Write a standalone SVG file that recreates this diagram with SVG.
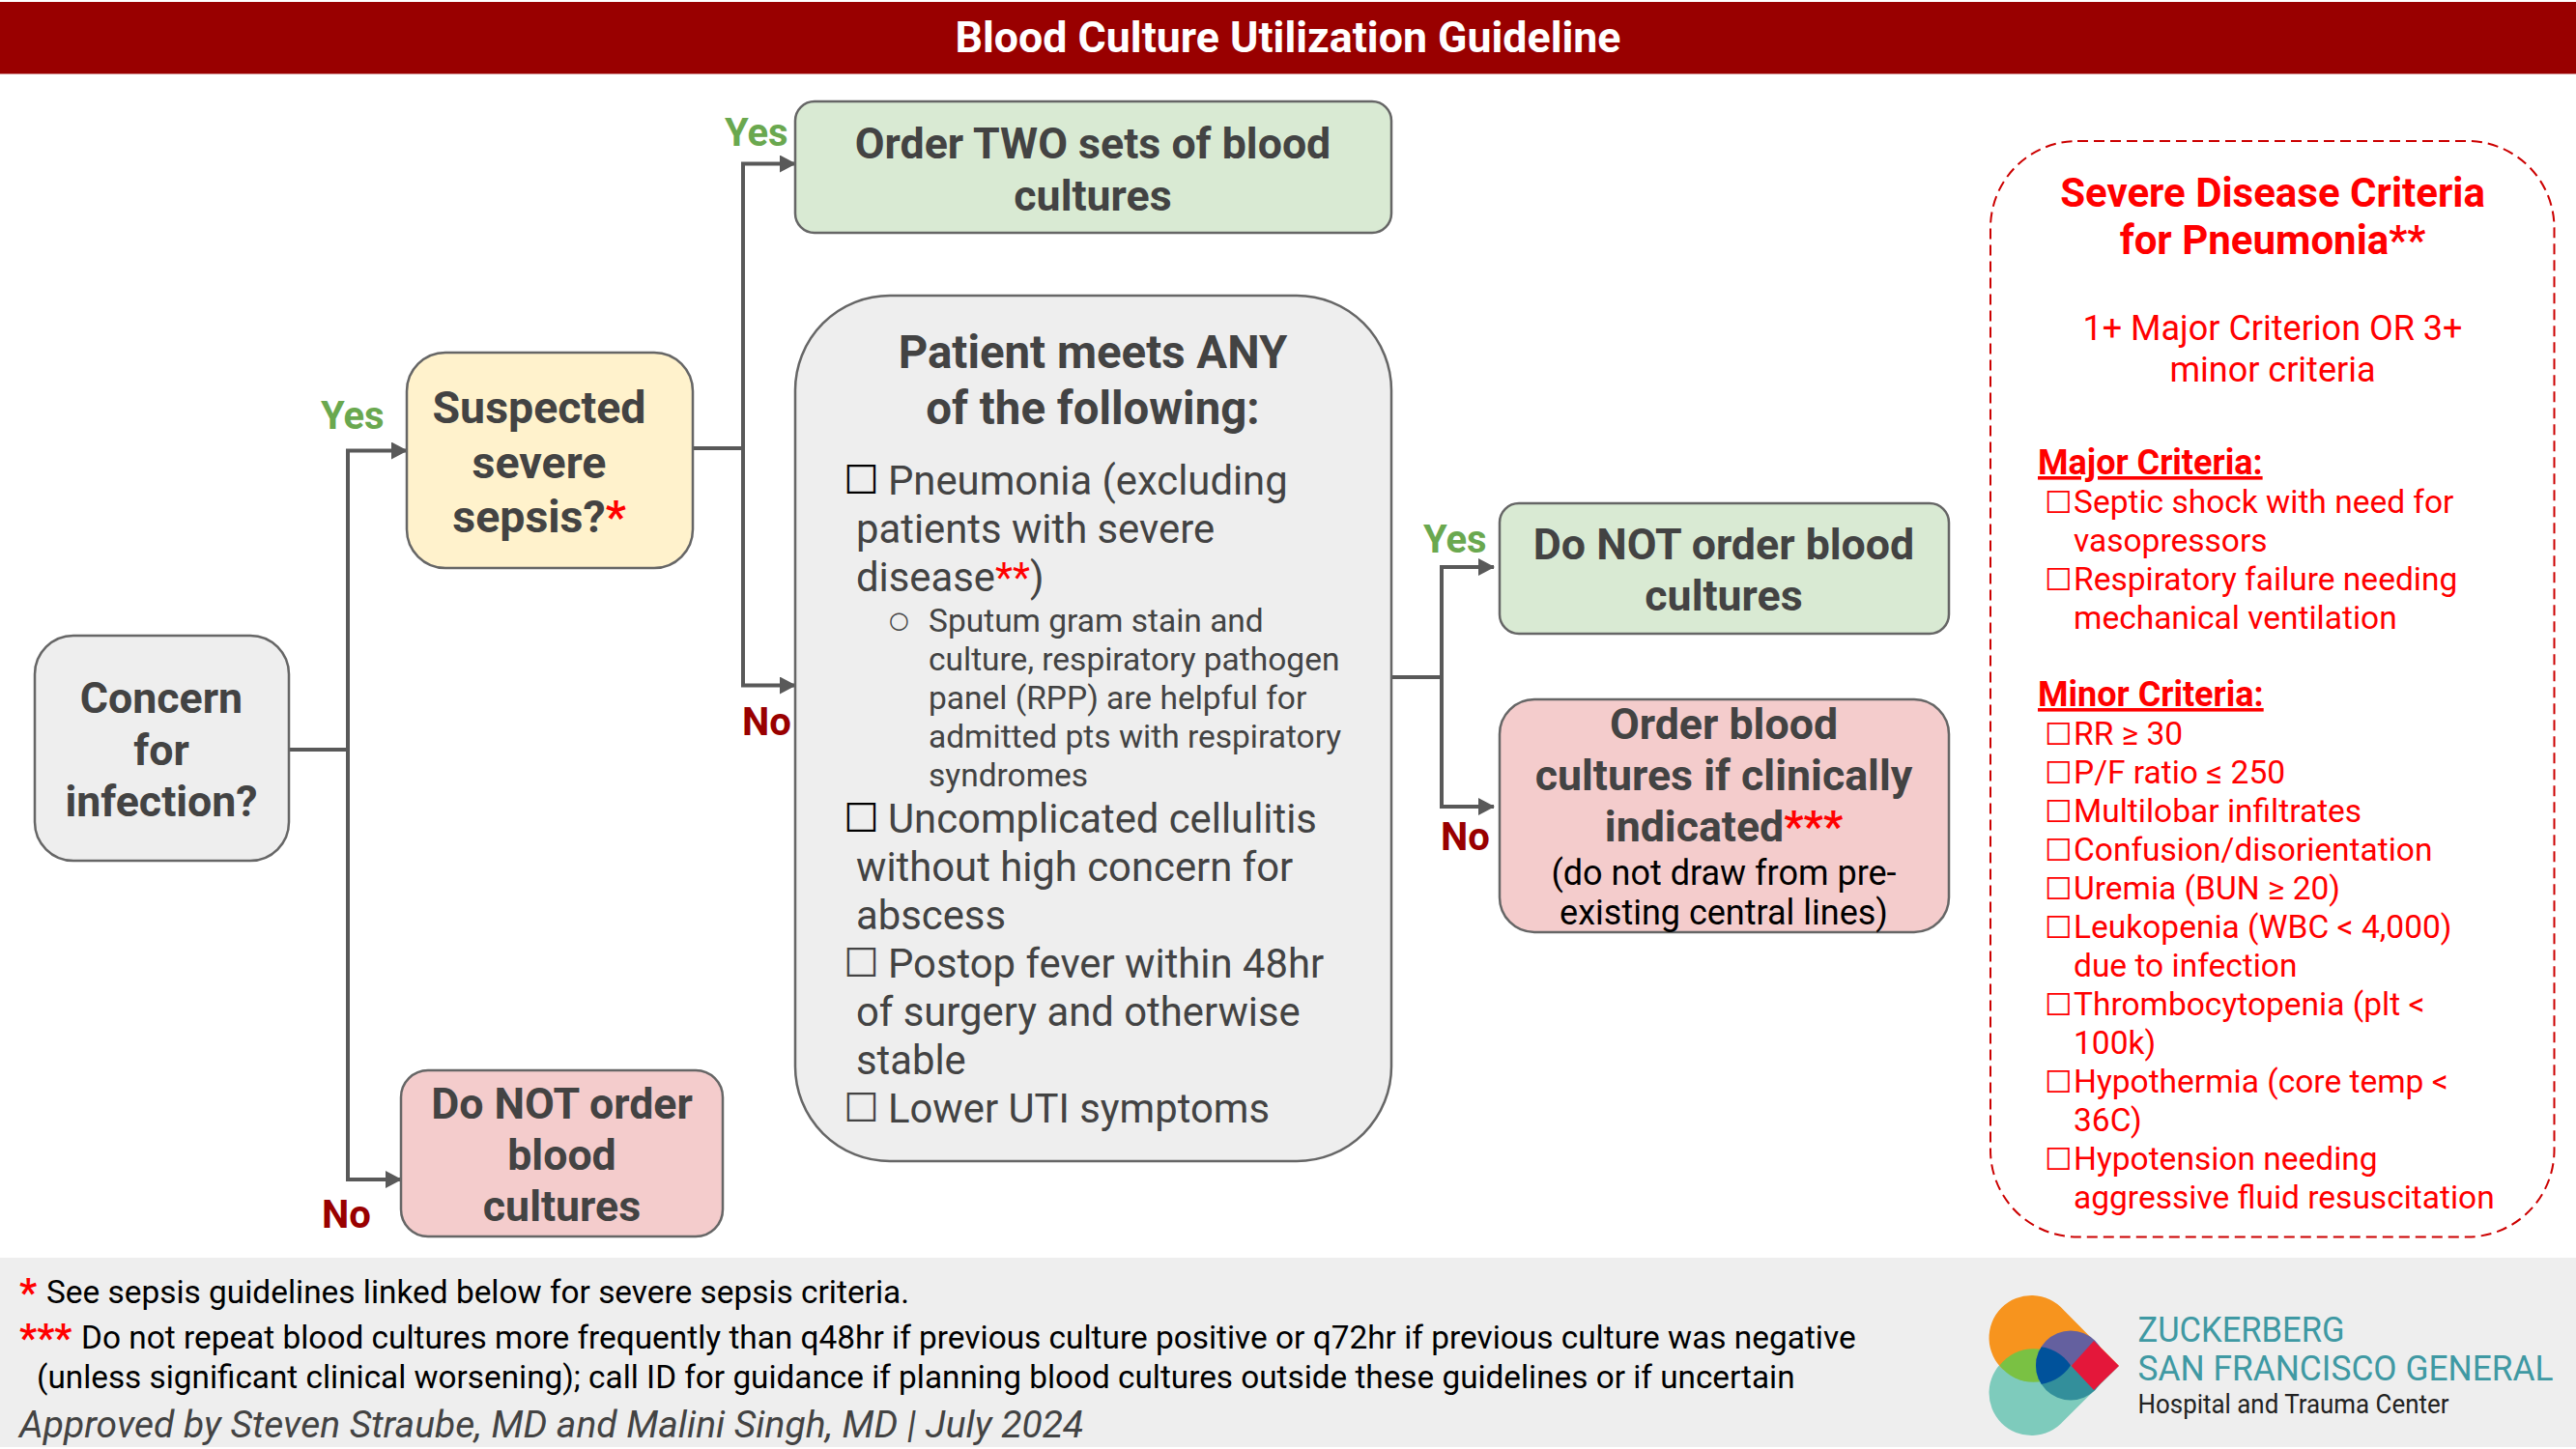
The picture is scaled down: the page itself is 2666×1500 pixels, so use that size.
<svg xmlns="http://www.w3.org/2000/svg" width="2666" height="1500" viewBox="0 0 2666 1500">
<style>
text{font-family:Roboto,"Liberation Sans",sans-serif;fill:#434343}
.b48{font-size:44.700px;font-weight:700;text-anchor:middle}
.node{stroke:#666;stroke-width:2.5}
.yes{font-size:40px;font-weight:700;fill:#6aa84f}
.no{font-size:40px;font-weight:700;fill:#990000}
.li{font-size:41.800px}
.sub{font-size:33.500px}
.ck{font-family:"DejaVu Sans",sans-serif;font-size:41px;fill:#000}
.r{fill:#f00}
.rt{font-size:33.500px;fill:#f00}
.rk{font-family:"DejaVu Sans",sans-serif;font-size:32px;fill:#f00}
.rh{font-size:36px;font-weight:700;fill:#f00;text-decoration:underline}
.fn{font-size:33.400px;fill:#000}
.st{font-size:40px;font-weight:700;fill:#f00}
.conn{fill:none;stroke:#595959;stroke-width:4}
</style>
<defs>
<marker id="arrow" markerUnits="userSpaceOnUse" markerWidth="17" markerHeight="18" refX="16" refY="9" orient="auto"><path d="M0 0L17 9L0 18Z" fill="#595959"/></marker>
<clipPath id="eye"><circle cx="2143" cy="1413.5" r="36"/></clipPath>
</defs>
<rect width="2666" height="1500" fill="#fff"/>
<g id="banner"><rect x="0" y="2" width="2666" height="74.500" fill="#990000"/>
<text x="1333" y="54" text-anchor="middle" font-size="44.700" font-weight="700" style="fill:#fff">Blood Culture Utilization Guideline</text></g>
<rect id="footer-band" x="0" y="1302" width="2666" height="196" fill="#eeeeee"/>
<g id="connectors">
<path class="conn" d="M299 776H360"/>
<path class="conn" d="M360 1221V466.500H421" marker-end="url(#arrow)"/>
<path class="conn" d="M360 776V1221H415" marker-end="url(#arrow)"/>
<path class="conn" d="M717 464H769"/>
<path class="conn" d="M769 709.500V169.500H823" marker-end="url(#arrow)"/>
<path class="conn" d="M769 464V709.500H823" marker-end="url(#arrow)"/>
<path class="conn" d="M1440 701H1492"/>
<path class="conn" d="M1492 835V587H1546" marker-end="url(#arrow)"/>
<path class="conn" d="M1492 701V835H1546" marker-end="url(#arrow)"/>
</g>
<g id="edge-labels">
<text class="yes" x="332" y="444">Yes</text>
<text class="no" x="333" y="1271">No</text>
<text class="yes" x="750" y="151">Yes</text>
<text class="no" x="768" y="761">No</text>
<text class="yes" x="1473" y="572">Yes</text>
<text class="no" x="1491" y="880">No</text>
</g>
<g id="concern"><rect class="node" x="36" y="658" width="263" height="233" rx="40" fill="#eeeeee"/>
<text class="b48" x="167" y="738">Concern</text><text class="b48" x="167" y="792">for</text><text class="b48" x="167" y="845">infection?</text></g>
<g id="suspected"><rect class="node" x="421" y="365" width="296" height="223" rx="40" fill="#fff2cc"/>
<text class="b48" style="font-size:46.500px" x="558" y="438">Suspected</text><text class="b48" style="font-size:46.500px" x="558" y="495">severe</text><text class="b48" style="font-size:46.500px" x="558" y="551">sepsis?<tspan class="r">*</tspan></text></g>
<g id="no-order-left"><rect class="node" x="415" y="1108" width="333" height="172" rx="28" fill="#f4cccc"/>
<text class="b48" x="581.500" y="1158">Do NOT order</text><text class="b48" x="581.500" y="1211">blood</text><text class="b48" x="581.500" y="1264">cultures</text></g>
<g id="order-two"><rect class="node" x="823" y="105" width="617" height="136" rx="20" fill="#d9ead3"/>
<text class="b48" x="1131" y="163.500">Order TWO sets of blood</text><text class="b48" x="1131" y="217.500">cultures</text></g>
<g id="meets-any"><rect class="node" x="823" y="306" width="617" height="896" rx="98" fill="#eeeeee"/>
<text class="b48" style="font-size:47.400px" x="1131" y="381">Patient meets ANY</text><text class="b48" style="font-size:47.400px" x="1131" y="439">of the following:</text>
<text class="ck" x="873" y="511">☐</text><text class="li" x="919" y="512">Pneumonia (excluding</text>
<text class="li" x="886" y="562">patients with severe</text>
<text class="li" x="886" y="612">disease<tspan class="r">**</tspan>)</text>
<text class="ck" x="920" y="650" style="font-size:24px;fill:#434343">○</text>
<text class="sub" x="961" y="654">Sputum gram stain and</text>
<text class="sub" x="961" y="694">culture, respiratory pathogen</text>
<text class="sub" x="961" y="734">panel (RPP) are helpful for</text>
<text class="sub" x="961" y="774">admitted pts with respiratory</text>
<text class="sub" x="961" y="814">syndromes</text>
<text class="ck" x="873" y="861">☐</text><text class="li" x="919" y="862">Uncomplicated cellulitis</text>
<text class="li" x="886" y="912">without high concern for</text>
<text class="li" x="886" y="962">abscess</text>
<text class="ck" x="873" y="1011" style="fill:#434343">☐</text><text class="li" x="919" y="1012">Postop fever within 48hr</text>
<text class="li" x="886" y="1062">of surgery and otherwise</text>
<text class="li" x="886" y="1112">stable</text>
<text class="ck" x="873" y="1161" style="fill:#434343">☐</text><text class="li" x="919" y="1162">Lower UTI symptoms</text></g>
<g id="no-order-right"><rect class="node" x="1552" y="521" width="465" height="135" rx="20" fill="#d9ead3"/>
<text class="b48" x="1784" y="578.500">Do NOT order blood</text><text class="b48" x="1784" y="631.500">cultures</text></g>
<g id="order-indicated"><rect class="node" x="1552" y="724" width="465" height="241" rx="36" fill="#f4cccc"/>
<text class="b48" x="1784" y="765">Order blood</text><text class="b48" x="1784" y="818">cultures if clinically</text><text class="b48" x="1784" y="871">indicated<tspan class="r">***</tspan></text>
<text x="1784" y="916" text-anchor="middle" font-size="36" style="fill:#000">(do not draw from pre-</text><text x="1784" y="957" text-anchor="middle" font-size="36" style="fill:#000">existing central lines)</text></g>
<g id="severe-criteria"><rect x="2060" y="146" width="583.500" height="1134.500" rx="90" fill="none" stroke="#cc0000" stroke-width="2" stroke-dasharray="11 6"/>
<text x="2352" y="214" text-anchor="middle" font-size="42" font-weight="700" class="r">Severe Disease Criteria</text>
<text x="2352" y="263" text-anchor="middle" font-size="42" font-weight="700" class="r">for Pneumonia**</text>
<text x="2352" y="352" text-anchor="middle" font-size="36" class="r">1+ Major Criterion OR 3+</text>
<text x="2352" y="395" text-anchor="middle" font-size="36" class="r">minor criteria</text>
<text class="rh" x="2109" y="491">Major Criteria:</text>
<text class="rk" x="2116" y="531">☐</text><text class="rt" x="2146" y="531">Septic shock with need for</text>
<text class="rt" x="2146" y="571">vasopressors</text>
<text class="rk" x="2116" y="611">☐</text><text class="rt" x="2146" y="611">Respiratory failure needing</text>
<text class="rt" x="2146" y="651">mechanical ventilation</text>
<text class="rh" x="2109" y="731">Minor Criteria:</text>
<text class="rk" x="2116" y="771">☐</text><text class="rt" x="2146" y="771">RR ≥ 30</text>
<text class="rk" x="2116" y="811">☐</text><text class="rt" x="2146" y="811">P/F ratio ≤ 250</text>
<text class="rk" x="2116" y="851">☐</text><text class="rt" x="2146" y="851">Multilobar infiltrates</text>
<text class="rk" x="2116" y="891">☐</text><text class="rt" x="2146" y="891">Confusion/disorientation</text>
<text class="rk" x="2116" y="931">☐</text><text class="rt" x="2146" y="931">Uremia (BUN ≥ 20)</text>
<text class="rk" x="2116" y="971">☐</text><text class="rt" x="2146" y="971">Leukopenia (WBC &lt; 4,000)</text>
<text class="rt" x="2146" y="1011">due to infection</text>
<text class="rk" x="2116" y="1051">☐</text><text class="rt" x="2146" y="1051">Thrombocytopenia (plt &lt;</text>
<text class="rt" x="2146" y="1091">100k)</text>
<text class="rk" x="2116" y="1131">☐</text><text class="rt" x="2146" y="1131">Hypothermia (core temp &lt;</text>
<text class="rt" x="2146" y="1171">36C)</text>
<text class="rk" x="2116" y="1211">☐</text><text class="rt" x="2146" y="1211">Hypotension needing</text>
<text class="rt" x="2146" y="1251">aggressive fluid resuscitation</text></g>
<g id="footnotes">
<text class="st" x="20" y="1352">*</text><text class="fn" x="48" y="1349">See sepsis guidelines linked below for severe sepsis criteria.</text>
<text class="st" x="20" y="1399">***</text><text class="fn" x="84" y="1396">Do not repeat blood cultures more frequently than q48hr if previous culture positive or q72hr if previous culture was negative</text>
<text class="fn" style="font-size:33.300px" x="38" y="1437">(unless significant clinical worsening); call ID for guidance if planning blood cultures outside these guidelines or if uncertain</text>
<text x="20" y="1488" font-size="39" font-style="italic">Approved by Steven Straube, MD and Malini Singh, MD | July 2024</text>
</g>
<g id="logo">
<path fill="#7ecbbc" d="M2193 1414L2135.600 1471A44 44 0 1 1 2073.400 1409L2104 1414Z"/>
<path fill="#f7941e" d="M2193 1414L2135.600 1356A44 44 0 1 0 2073.400 1418L2104 1414Z"/>
<path fill="#7ac143" d="M2069.500 1413.500A44 44 0 0 1 2139.500 1413.500A44 44 0 0 1 2069.500 1413.500Z"/>
<g clip-path="url(#eye)">
<rect x="2100" y="1370" width="90" height="43.500" fill="#64609f"/>
<rect x="2100" y="1413.500" width="90" height="43.500" fill="#338f9b"/>
<path fill="#00529b" d="M2069.500 1413.500A44 44 0 0 1 2143 1413.500A44 44 0 0 1 2069.500 1413.500Z"/>
</g>
<path fill="#e4173a" d="M2143.600 1414L2167 1388L2193 1414L2167 1439Z"/>
<text x="2212.500" y="1389" font-size="36" textLength="214" lengthAdjust="spacingAndGlyphs" style="fill:#3f99a3">ZUCKERBERG</text>
<text x="2212.500" y="1429" font-size="36" textLength="430" lengthAdjust="spacingAndGlyphs" style="fill:#3f99a3">SAN FRANCISCO GENERAL</text>
<text x="2212.500" y="1463" font-size="28" textLength="322" lengthAdjust="spacingAndGlyphs" style="fill:#222">Hospital and Trauma Center</text>
</g>
</svg>
